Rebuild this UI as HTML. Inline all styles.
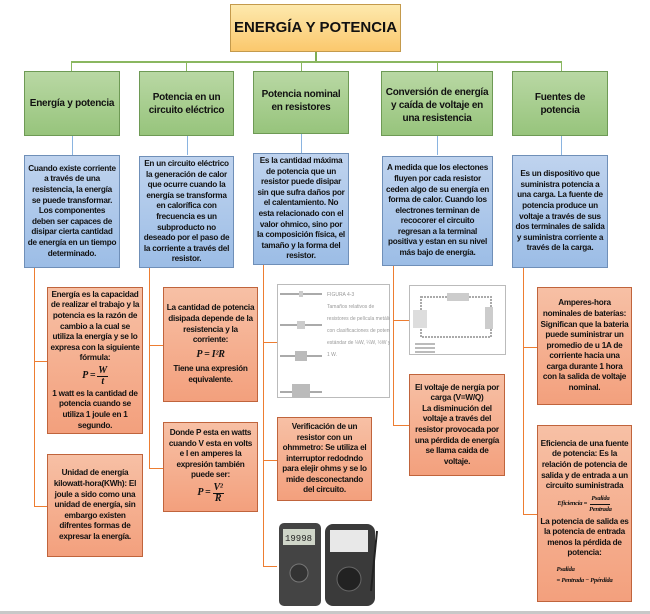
<!DOCTYPE html>
<html><head><meta charset="utf-8"><style>
body{margin:0;width:650px;height:614px;background:#fff;position:relative;overflow:hidden;font-family:"Liberation Sans",sans-serif;}
.b{position:absolute;box-sizing:border-box;display:flex;flex-direction:column;align-items:center;justify-content:center;text-align:center;font-weight:bold;font-size:8.2px;line-height:10.6px;letter-spacing:-0.25px;color:#111;padding:0 2px;}
.g{background:linear-gradient(#b9d8a4,#97c47c);border:1px solid #6e9a55;font-size:10px;line-height:13px;}
.bl{background:linear-gradient(#bfd3ee,#9cbde6);border:1px solid #6f8fb8;}
.o{background:linear-gradient(#f7c0a5,#f3a07d);border:1px solid #c0643c;}
.l{position:absolute;}
.f{font-family:"Liberation Serif",serif;font-style:italic;font-size:10px;display:inline-flex;align-items:center;gap:2px;margin:2px 0;}
.fr{display:inline-flex;flex-direction:column;align-items:center;line-height:10px;}
.fr span:first-child{border-bottom:1px solid #111;padding:0 1px;}
</style></head><body>
<div class="b" style="left:230px;top:4px;width:171px;height:48px;background:linear-gradient(#fde9ad,#fbc86d);border:1px solid #c49a4c;font-size:15px;letter-spacing:0">ENERGÍA Y POTENCIA</div>
<div class="l" style="left:315px;top:52px;width:2px;height:10px;background:#7fae55"></div>
<div class="l" style="left:71px;top:61px;width:491px;height:2px;background:#8ab760"></div>
<div class="l" style="left:71px;top:61px;width:1px;height:10px;background:#8ab760"></div>
<div class="l" style="left:186px;top:61px;width:1px;height:10px;background:#8ab760"></div>
<div class="l" style="left:301px;top:61px;width:1px;height:10px;background:#8ab760"></div>
<div class="l" style="left:437px;top:61px;width:1px;height:10px;background:#8ab760"></div>
<div class="l" style="left:561px;top:61px;width:1px;height:10px;background:#8ab760"></div>
<div class="b g" style="left:24px;top:71px;width:96px;height:65px">Energía y potencia</div>
<div class="b g" style="left:139px;top:71px;width:95px;height:65px">Potencia en un circuito eléctrico</div>
<div class="b g" style="left:253px;top:71px;width:96px;height:63px;justify-content:flex-start;padding-top:16px">Potencia nominal en resistores</div>
<div class="b g" style="left:381px;top:71px;width:112px;height:65px;justify-content:flex-start;padding-top:14px">Conversión de energía y caída de voltaje en una resistencia</div>
<div class="b g" style="left:512px;top:71px;width:96px;height:65px">Fuentes de potencia</div>
<div class="l" style="left:72px;top:136px;width:1px;height:19px;background:#8ab4e0"></div>
<div class="l" style="left:187px;top:136px;width:1px;height:19px;background:#8ab4e0"></div>
<div class="l" style="left:301px;top:134px;width:1px;height:19px;background:#8ab4e0"></div>
<div class="l" style="left:437px;top:136px;width:1px;height:19px;background:#8ab4e0"></div>
<div class="l" style="left:561px;top:136px;width:1px;height:19px;background:#8ab4e0"></div>
<div class="b bl" style="left:24px;top:155px;width:96px;height:113px">Cuando existe corriente a través de una resistencia, la energía se puede transformar. Los componentes deben ser capaces de disipar cierta cantidad de energía en un tiempo determinado.</div>
<div class="b bl" style="left:139px;top:156px;width:95px;height:112px">En un circuito eléctrico la generación de calor que ocurre cuando la energía se transforma en calorífica con frecuencia es un subproducto no deseado por el paso de la corriente a través del resistor.</div>
<div class="b bl" style="left:253px;top:153px;width:96px;height:112px">Es la cantidad máxima de potencia que un resistor puede disipar sin que sufra daños por el calentamiento. No esta relacionado con el valor ohmico, sino por la composición física, el tamaño y la forma del resistor.</div>
<div class="b bl" style="left:382px;top:156px;width:111px;height:110px">A medida que los electones fluyen por cada resistor ceden algo de su energía en forma de calor. Cuando los electrones terminan de recocorer el circuito regresan a la terminal positiva y estan en su nivel más bajo de energía.</div>
<div class="b bl" style="left:512px;top:155px;width:96px;height:113px">Es un dispositivo que suministra potencia a una carga. La fuente de potencia produce un voltaje a través de sus dos terminales de salida y suministra corriente a través de la carga.</div>
<div class="l" style="left:34px;top:268px;width:1px;height:239px;background:#ed7d31"></div>
<div class="l" style="left:34px;top:361px;width:13px;height:1px;background:#ed7d31"></div>
<div class="l" style="left:34px;top:506px;width:13px;height:1px;background:#ed7d31"></div>
<div class="l" style="left:149px;top:268px;width:1px;height:201px;background:#ed7d31"></div>
<div class="l" style="left:149px;top:345px;width:14px;height:1px;background:#ed7d31"></div>
<div class="l" style="left:149px;top:468px;width:14px;height:1px;background:#ed7d31"></div>
<div class="l" style="left:263px;top:265px;width:1px;height:302px;background:#ed7d31"></div>
<div class="l" style="left:263px;top:342px;width:14px;height:1px;background:#ed7d31"></div>
<div class="l" style="left:263px;top:460px;width:14px;height:1px;background:#ed7d31"></div>
<div class="l" style="left:263px;top:566px;width:14px;height:1px;background:#ed7d31"></div>
<div class="l" style="left:393px;top:266px;width:1px;height:160px;background:#ed7d31"></div>
<div class="l" style="left:393px;top:320px;width:16px;height:1px;background:#ed7d31"></div>
<div class="l" style="left:393px;top:425px;width:16px;height:1px;background:#ed7d31"></div>
<div class="l" style="left:523px;top:268px;width:1px;height:247px;background:#ed7d31"></div>
<div class="l" style="left:523px;top:347px;width:14px;height:1px;background:#ed7d31"></div>
<div class="l" style="left:523px;top:514px;width:14px;height:1px;background:#ed7d31"></div>
<div class="b o" style="left:47px;top:287px;width:96px;height:147px">Energía es la capacidad de realizar el trabajo y la potencia es la razón de cambio a la cual se utiliza la energía y se lo expresa con la siguiente fórmula:<span class="f">P = <span class="fr"><span>W</span><span>t</span></span></span>1 watt es la cantidad de potencia cuando se utiliza 1 joule en 1 segundo.</div>
<div class="b o" style="left:47px;top:454px;width:96px;height:103px">Unidad de energía kilowatt-hora(KWh): El joule a sido como una unidad de energía, sin embargo existen difrentes formas de expresar la energía.</div>
<div class="b o" style="left:163px;top:287px;width:95px;height:115px">La cantidad de potencia disipada depende de la resistencia y la corriente:<span class="f" style="margin:4px 0">P = I²R</span>Tiene una expresión equivalente.</div>
<div class="b o" style="left:163px;top:422px;width:95px;height:90px">Donde P esta en watts cuando V esta en volts e I en amperes la expresión también puede ser:<span class="f">P = <span class="fr"><span>V²</span><span>R</span></span></span></div>
<div class="b o" style="left:277px;top:417px;width:95px;height:84px">Verificación de un resistor con un ohmmetro: Se utiliza el interruptor redodndo para elejir ohms y se lo mide desconectando del circuito.</div>
<div class="b o" style="left:409px;top:374px;width:96px;height:102px">El voltaje de nergía por carga (V=W/Q)<br>La disminución del voltaje a través del resistor provocada por una pérdida de energía se llama caida de voltaje.</div>
<div class="b o" style="left:537px;top:287px;width:95px;height:118px">Amperes-hora nominales de baterías: Significan que la bateria puede suministrar un promedio de u 1A de corriente hacia una carga durante 1 hora con la salida de voltaje nominal.</div>
<div class="b o" style="left:537px;top:425px;width:95px;height:177px">Eficiencia de una fuente de potencia: Es la relación de potencia de salida y de entrada a un circuito suministrada<span class="f" style="font-size:6.5px">Eficiencia = <span class="fr"><span>Psalida</span><span>Pentrada</span></span></span>La potencia de salida es la potencia de entrada menos la pérdida de potencia:<span class="f" style="font-size:6.5px;text-align:left;display:block;margin-top:6px">Psalida<br>= Pentrada − Ppérdida</span></div>
<svg class="l" style="left:277px;top:284px" width="113" height="114">
<rect x="0.5" y="0.5" width="112" height="113" fill="#fff" stroke="#bbb"/>
<g stroke="#aaa" stroke-width="2"><line x1="3" y1="10" x2="45" y2="10"/><line x1="3" y1="41" x2="45" y2="41"/><line x1="3" y1="72" x2="45" y2="72"/><line x1="3" y1="108" x2="45" y2="108"/></g>
<rect x="22" y="7" width="4" height="6" fill="#ccc"/><rect x="20" y="37" width="8" height="8" fill="#ccc"/><rect x="18" y="67" width="12" height="10" fill="#bbb"/><rect x="15" y="100" width="18" height="16" fill="#bbb"/>
<g fill="#999" font-size="5" font-family="Liberation Sans"><text x="50" y="12">FIGURA 4-3</text><text x="50" y="24">Tamaños relativos de</text><text x="50" y="36">resistores de película metálica</text><text x="50" y="48">con clasificaciones de potencia</text><text x="50" y="60">estándar de ⅛W, ¼W, ½W y</text><text x="50" y="72">1 W.</text></g>
</svg>
<svg class="l" style="left:409px;top:285px" width="97" height="70">
<rect x="0.5" y="0.5" width="96" height="69" fill="#fff" stroke="#bbb"/>
<rect x="12" y="12" width="70" height="40" fill="none" stroke="#aaa" stroke-width="2" stroke-dasharray="2 1"/>
<rect x="4" y="25" width="14" height="18" fill="#ddd"/><rect x="38" y="8" width="22" height="8" fill="#ccc"/><rect x="76" y="22" width="8" height="22" fill="#ccc"/>
<g fill="#bbb"><rect x="6" y="58" width="20" height="2"/><rect x="6" y="62" width="20" height="2"/><rect x="6" y="66" width="20" height="2"/></g>
</svg>
<svg class="l" style="left:277px;top:521px;overflow:hidden" width="107" height="90">
<rect width="107" height="90" fill="#fff"/>
<rect x="2" y="2" width="42" height="83" rx="5" fill="#444"/>
<rect x="6" y="8" width="32" height="16" fill="#cfd5c8"/><text x="8" y="20" font-size="9" font-family="Liberation Mono" fill="#222">19998</text>
<circle cx="22" cy="52" r="9" fill="#333" stroke="#777"/>
<rect x="48" y="3" width="50" height="82" rx="8" fill="#3a3a3a"/>
<rect x="53" y="9" width="38" height="22" fill="#e8e8e8"/>
<circle cx="72" cy="58" r="12" fill="#222" stroke="#666"/>
<line x1="100" y1="10" x2="94" y2="70" stroke="#222" stroke-width="2"/>
<rect x="0" y="86" width="107" height="4" fill="#fff"/>
</svg>
<div class="l" style="left:0;top:611px;width:650px;height:3px;background:#c8c8c8"></div>
</body></html>
